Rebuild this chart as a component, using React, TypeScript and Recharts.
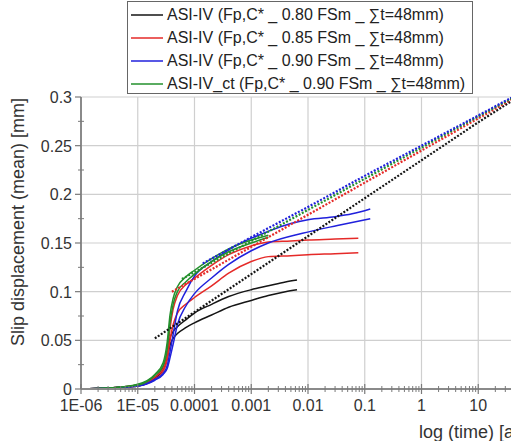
import { LineChart, Line, XAxis, YAxis, ReferenceLine } from "recharts";

// log time axis, decades + minor ticks
const xMajor = [1e-6, 1e-5, 1e-4, 1e-3, 1e-2, 1e-1, 1, 10, 100];
const xMajorLabels = ["1E-06", "1E-05", "0.0001", "0.001", "0.01", "0.1", "1", "10", ""];
const xMinor = xMajor.slice(0, -1).flatMap((d) => [2, 3, 4, 5, 6, 7, 8, 9].map((k) => d * k));
const yMajor = [0, 0.05, 0.1, 0.15, 0.2, 0.25, 0.3];
const yMajorLabels = ["0", "0.05", "0.1", "0.15", "0.2", "0.25", "0.3"];
const yMinor = [0.025, 0.075, 0.125, 0.175, 0.225, 0.275];

// measured curves (times in years)
const tRise = [1e-6, 3e-6, 1e-5, 2e-5, 2.8e-5, 3.3e-5, 3.7e-5, 4.2e-5, 5e-5, 7e-5, 1e-4, 2e-4, 4e-4, 1e-3, 2e-3];
const tBlackTail = [4e-3, 6.4e-3];
const tRedTail = [5e-3, 1e-2, 3e-2, 7.7e-2];
const tBlueATail = [5e-3, 1e-2, 3e-2, 6e-2, 0.125];
const tBlueBTail = [8e-3, 3.3e-2, 0.125];

const blackA = [0, 0.001, 0.004, 0.012, 0.022, 0.036, 0.052, 0.059, 0.064, 0.071, 0.078, 0.087, 0.095, 0.102, 0.106, 0.11, 0.112];
const blackB = [0, 0.001, 0.003, 0.011, 0.02, 0.032, 0.045, 0.052, 0.057, 0.063, 0.068, 0.076, 0.084, 0.091, 0.096, 0.1, 0.102];
const redA = [0, 0.001, 0.004, 0.012, 0.021, 0.036, 0.062, 0.082, 0.096, 0.107, 0.114, 0.127, 0.138, 0.147, 0.151, 0.152, 0.153, 0.154, 0.155];
const redB = [0, 0.001, 0.003, 0.01, 0.018, 0.03, 0.05, 0.066, 0.078, 0.087, 0.094, 0.106, 0.119, 0.131, 0.136, 0.137, 0.138, 0.139, 0.14];
const blueA = [0, 0.001, 0.003, 0.01, 0.016, 0.024, 0.038, 0.056, 0.08, 0.1, 0.116, 0.131, 0.143, 0.155, 0.162, 0.17, 0.174, 0.177, 0.18, 0.185];
const blueB = [0, 0.001, 0.003, 0.009, 0.015, 0.021, 0.032, 0.046, 0.066, 0.085, 0.098, 0.114, 0.128, 0.142, 0.15, 0.16, 0.168, 0.175];
const greenA = [0, 0.001, 0.005, 0.015, 0.027, 0.048, 0.076, 0.093, 0.105, 0.115, 0.122, 0.134, 0.144, 0.153, 0.158];
const greenB = [0, 0.001, 0.004, 0.014, 0.024, 0.041, 0.068, 0.087, 0.1, 0.11, 0.118, 0.131, 0.141, 0.15, 0.156];

// fitted trend lines (dotted)
const fitT = [1e-4, 1e-3, 1e-2, 0.1, 1, 10, 50];
const blackFitStart = 2e-5;
const blackFit = [0.052, 0.079, 0.118, 0.157, 0.196, 0.235, 0.274, 0.3];
const redFitStart = 4e-5;
const redFit = [0.1, 0.113, 0.146, 0.179, 0.212, 0.245, 0.278, 0.301];
const greenFitStart = 6e-5;
const greenFit = [0.113, 0.12, 0.152, 0.184, 0.216, 0.248, 0.28, 0.302];
const blueFitT = [1.4e-4, 1e-3, 1e-2, 0.1, 1, 10, 50];
const blueFit = [0.129, 0.156, 0.187, 0.219, 0.25, 0.281, 0.303];

const legendNames = [
  "ASI-IV (Fp,C* _ 0.80 FSm _ \u2211t=48mm)",
  "ASI-IV (Fp,C* _ 0.85 FSm _ \u2211t=48mm)",
  "ASI-IV (Fp,C* _ 0.90 FSm _ \u2211t=48mm)",
  "ASI-IV_ct (Fp,C* _ 0.90 FSm _ \u2211t=48mm)",
];
const colors = ["#151515", "#e52a28", "#2020dc", "#23902c"];

const zip = (ts: number[], vs: number[]) => vs.map((v, i) => ({ t: ts[i], v }));

const FONT = "'Liberation Sans', Arial, sans-serif";

const solid = [
  { id: "blackA", c: 0, pts: zip(tRise.concat(tBlackTail), blackA) },
  { id: "blackB", c: 0, pts: zip(tRise.concat(tBlackTail), blackB) },
  { id: "redA", c: 1, pts: zip(tRise.concat(tRedTail), redA) },
  { id: "redB", c: 1, pts: zip(tRise.concat(tRedTail), redB) },
  { id: "blueA", c: 2, pts: zip(tRise.concat(tBlueATail), blueA) },
  { id: "blueB", c: 2, pts: zip(tRise.concat(tBlueBTail), blueB) },
  { id: "greenA", c: 3, pts: zip(tRise, greenA) },
  { id: "greenB", c: 3, pts: zip(tRise, greenB) },
];

const dotted = [
  { id: "blackFit", c: 0, pts: zip([blackFitStart, ...fitT], blackFit) },
  { id: "redFit", c: 1, pts: zip([redFitStart, ...fitT], redFit) },
  { id: "greenFit", c: 3, pts: zip([greenFitStart, ...fitT], greenFit) },
  { id: "blueFit", c: 2, pts: zip(blueFitT, blueFit) },
];

function XTick(props: any) {
  const { x, y, payload } = props;
  const i = xMajor.indexOf(payload.value);
  if (i < 0) {
    return <line x1={x} x2={x} y1={y - 3} y2={y + 3} stroke="#7a7a7a" strokeWidth={1} />;
  }
  return (
    <g>
      <line x1={x} x2={x} y1={y - 5} y2={y + 5} stroke="#7a7a7a" strokeWidth={1.2} />
      {xMajorLabels[i] && (
        <text x={x} y={y + 22} textAnchor="middle" fontSize={16} fill="#333" fontFamily={FONT}>
          {xMajorLabels[i]}
        </text>
      )}
    </g>
  );
}

function YTick(props: any) {
  const { x, y, payload } = props;
  const i = yMajor.indexOf(payload.value);
  if (i < 0) {
    return <line x1={x - 3} x2={x + 3} y1={y} y2={y} stroke="#7a7a7a" strokeWidth={1} />;
  }
  return (
    <g>
      <line x1={x - 6} x2={x} y1={y} y2={y} stroke="#7a7a7a" strokeWidth={1.2} />
      <text x={x - 9} y={y + 6} textAnchor="end" fontSize={16} fill="#333" fontFamily={FONT}>
        {yMajorLabels[i]}
      </text>
    </g>
  );
}

export default function App() {
  return (
    <div
      style={{
        position: "fixed",
        left: 0,
        top: 0,
        width: 511,
        height: 441,
        overflow: "hidden",
        background: "#fff",
        fontFamily: FONT,
      }}
    >
      <LineChart width={560} height={441} margin={{ top: 97, right: 25, bottom: 0, left: 0 }}>
        <XAxis
          type="number"
          dataKey="t"
          scale="log"
          domain={[1e-6, 100]}
          allowDataOverflow
          ticks={[...xMajor, ...xMinor]}
          interval={0}
          tick={<XTick />}
          tickLine={false}
          tickSize={0}
          tickMargin={0}
          height={52}
          axisLine={{ stroke: "#8a8a8a", strokeWidth: 2 }}
        />
        <YAxis
          type="number"
          domain={[0, 0.3]}
          allowDataOverflow
          ticks={[...yMajor, ...yMinor]}
          interval={0}
          tick={<YTick />}
          tickLine={false}
          tickSize={0}
          tickMargin={0}
          width={81}
          axisLine={{ stroke: "#8a8a8a", strokeWidth: 2 }}
        />
        {xMajor.slice(1).map((t) => (
          <ReferenceLine key={"gx" + t} x={t} stroke="#cfcfcf" strokeWidth={1.2} />
        ))}
        {yMajor.slice(1).map((v) => (
          <ReferenceLine key={"gy" + v} y={v} stroke="#cfcfcf" strokeWidth={1.2} />
        ))}
        {solid.map((s) => (
          <Line
            key={s.id}
            data={s.pts}
            dataKey="v"
            type="monotone"
            stroke={colors[s.c]}
            strokeWidth={1.5}
            dot={false}
            activeDot={false}
            isAnimationActive={false}
          />
        ))}
        {dotted.map((s) => (
          <Line
            key={s.id}
            data={s.pts}
            dataKey="v"
            type="linear"
            stroke={colors[s.c]}
            strokeWidth={2.2}
            strokeDasharray="2 1.6"
            dot={false}
            activeDot={false}
            isAnimationActive={false}
          />
        ))}
        <text
          transform="translate(24, 222) rotate(-90)"
          textAnchor="middle"
          fontSize={18}
          fill="#333"
          fontFamily={FONT}
        >
          Slip displacement (mean) [mm]
        </text>
        <text x={419} y={438} fontSize={18} fill="#333" fontFamily={FONT}>
          log (time) [a]
        </text>
      </LineChart>
      <div
        style={{
          position: "absolute",
          left: 127,
          top: 1,
          width: 346,
          height: 93,
          border: "1px solid #666",
          background: "#fff",
          boxSizing: "border-box",
          paddingTop: 1,
        }}
      >
        {legendNames.map((n, i) => (
          <div key={n} style={{ display: "flex", alignItems: "center", height: 23 }}>
            <svg width={36} height={4} style={{ marginLeft: 3 }}>
              <line x1={0} x2={32} y1={2} y2={2} stroke={colors[i]} strokeWidth={1.5} />
            </svg>
            <span style={{ fontSize: 16, color: "#222", whiteSpace: "nowrap" }}>{n}</span>
          </div>
        ))}
      </div>
    </div>
  );
}
